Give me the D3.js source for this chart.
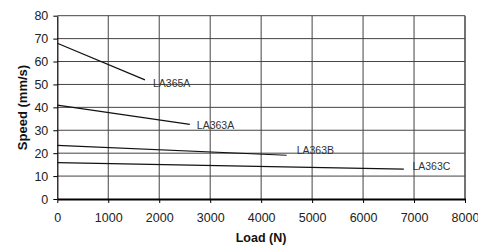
<!DOCTYPE html>
<html>
<head>
<meta charset="utf-8">
<script src="https://cdn.jsdelivr.net/npm/d3@7"></script>
<style>
  body { margin: 0; background: #fff; }
  svg { font-family: Arial, "Liberation Sans", sans-serif; }
</style>
</head>
<body>
<svg id="chart" width="478" height="245"></svg>
<script>
// speed vs load for each actuator model
const models = ["LA365A", "LA363A", "LA363B", "LA363C"];
const loadStart = [0, 0, 0, 0];
const loadEnd = [1720, 2600, 4500, 6800];
const speedStart = [68, 41, 23.4, 15.9];
const speedEnd = [52, 32.6, 19.1, 13];
const xTicks = [0, 1000, 2000, 3000, 4000, 5000, 6000, 7000, 8000];
const yTicks = [0, 10, 20, 30, 40, 50, 60, 70, 80];

const svg = d3.select("#chart");
const mLeft = 57.3, mRight = 465, mTop = 15.7, mBottom = 199;

const x = d3.scaleLinear().domain([0, 8000]).range([mLeft, mRight]);
const y = d3.scaleLinear().domain([0, 80]).range([mBottom, mTop]);

// grid
svg.append("g").selectAll("line").data(yTicks.slice(1)).join("line")
  .attr("x1", mLeft).attr("x2", mRight)
  .attr("y1", d => y(d)).attr("y2", d => y(d))
  .attr("stroke", "#444").attr("stroke-width", 1);
svg.append("g").selectAll("line").data(xTicks.slice(1)).join("line")
  .attr("x1", d => x(d)).attr("x2", d => x(d))
  .attr("y1", mTop).attr("y2", mBottom)
  .attr("stroke", "#444").attr("stroke-width", d => d === 8000 ? 1.5 : 1);

// axes
const xAxis = svg.append("g").attr("transform", `translate(0,${mBottom})`)
  .call(d3.axisBottom(x).tickValues(xTicks).tickFormat(d3.format("d")).tickSize(4).tickSizeOuter(0));
const yAxis = svg.append("g").attr("transform", `translate(${mLeft},0)`)
  .call(d3.axisLeft(y).tickValues(yTicks).tickSize(4).tickSizeOuter(0));

xAxis.select(".domain").attr("stroke", "#000").attr("stroke-width", 2);
yAxis.select(".domain").attr("stroke", "#000").attr("stroke-width", 1.2);
[xAxis, yAxis].forEach(a => {
  a.selectAll(".tick line").attr("stroke", "#000");
  a.selectAll("text").attr("font-size", 12.5).attr("fill", "#222")
    .attr("font-family", "Arial, 'Liberation Sans', sans-serif");
});
xAxis.selectAll("text").attr("y", 22.5).attr("dy", 0);
yAxis.selectAll("text").attr("x", -9);

// series lines
const series = models.map((m, i) => ({
  name: m,
  pts: [[loadStart[i], speedStart[i]], [loadEnd[i], speedEnd[i]]]
}));
const line = d3.line().x(d => x(d[0])).y(d => y(d[1]));
svg.append("g").selectAll("path").data(series).join("path")
  .attr("d", d => line(d.pts))
  .attr("fill", "none").attr("stroke", "#111").attr("stroke-width", 1.2);

// labels at end of each line
const labelDx = [8, 7, 10, 8.6];
const labelDy = [3, 0.7, -5.3, -2.5];
svg.append("g").selectAll("text").data(series).join("text")
  .attr("x", (d, i) => x(d.pts[1][0]) + labelDx[i])
  .attr("y", (d, i) => y(d.pts[1][1]) + labelDy[i])
  .attr("dy", "0.35em")
  .attr("font-size", 10.5).attr("fill", "#333")
  .text(d => d.name);

// titles
svg.append("text")
  .attr("x", 261).attr("y", 242)
  .attr("text-anchor", "middle").attr("font-size", 12.5).attr("font-weight", "bold").attr("fill", "#111")
  .text("Load (N)");
svg.append("text")
  .attr("transform", "translate(26.5,107.5) rotate(-90)")
  .attr("text-anchor", "middle").attr("font-size", 13).attr("font-weight", "bold").attr("fill", "#111")
  .text("Speed (mm/s)");
</script>
</body>
</html>
